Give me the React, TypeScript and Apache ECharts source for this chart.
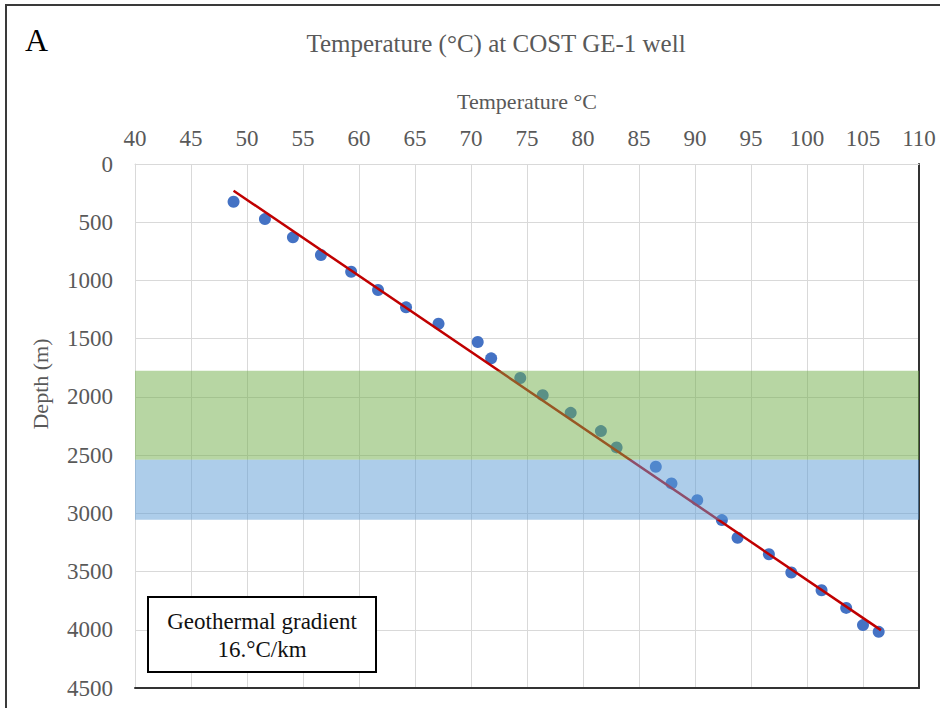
import React, { useEffect, useRef } from "react";
import * as echarts from "echarts";

// Measured temperature (°C) and depth (m) at COST GE-1 well
const temperatures = [48.8, 51.6, 54.1, 56.6, 59.3, 61.7, 64.2, 67.1, 70.6, 71.8, 74.4, 76.4, 78.9, 81.6, 83.0, 86.5, 87.9, 90.2, 92.4, 93.8, 96.6, 98.6, 101.3, 103.5, 105.0, 106.4];
const depths = [324, 473, 630, 782, 925, 1082, 1231, 1372, 1529, 1669, 1838, 1985, 2137, 2294, 2434, 2600, 2743, 2887, 3058, 3210, 3351, 3508, 3660, 3812, 3960, 4018];

// Linear trend line end points
const trendTemps = [48.8, 106.6];
const trendDepths = [229, 4003];

// Shaded depth bands
const bandStarts = [1775, 2540];
const bandEnds = [2540, 3055];
const bandColors = ["rgba(112,173,71,0.5)", "rgba(91,155,213,0.5)"];

const xTickMin = 40;
const xTickMax = 110;
const xTickStep = 5;
const yTickMin = 0;
const yTickMax = 4500;
const yTickStep = 500;

const FONT = "'Liberation Serif', 'Times New Roman', serif";
const GRAY_TEXT = "#595959";
const GRID_COLOR = "#d9d9d9";
const DARK = "#333333";

export default function App() {
  const ref = useRef<HTMLDivElement>(null);

  useEffect(() => {
    document.body.style.margin = "0";
    if (!ref.current) return;
    const chart = echarts.init(ref.current, undefined, { renderer: "svg" });

    const scatterData = temperatures.map((t, i) => [t, depths[i]]);
    const trendData = trendTemps.map((t, i) => [t, trendDepths[i]]);
    const bandData = bandStarts.map((s, i) => [s, bandEnds[i]]);

    const labelStyle = { fontFamily: FONT, fontSize: 23, color: GRAY_TEXT, formatter: (v: number) => String(v) };

    chart.setOption({
      animation: false,
      backgroundColor: "#ffffff",
      title: {
        text: "Temperature (°C) at COST GE-1 well",
        left: 491,
        top: 26,
        textAlign: "center",
        textStyle: { fontFamily: FONT, fontSize: 25, fontWeight: "normal", color: GRAY_TEXT },
      },
      grid: { left: 135, right: 21, top: 164, bottom: 20, containLabel: false },
      xAxis: [
        {
          type: "value",
          position: "top",
          min: xTickMin,
          max: xTickMax,
          interval: xTickStep,
          name: "Temperature °C",
          nameLocation: "middle",
          nameGap: 52,
          nameTextStyle: { fontFamily: FONT, fontSize: 22, color: GRAY_TEXT },
          axisLine: { show: true, onZero: false, lineStyle: { color: GRID_COLOR, width: 1 } },
          axisTick: { show: false },
          axisLabel: { ...labelStyle, margin: 14 },
          splitLine: { show: true, lineStyle: { color: GRID_COLOR, width: 1 } },
        },
        {
          type: "value",
          position: "bottom",
          min: xTickMin,
          max: xTickMax,
          interval: xTickStep,
          axisLine: { show: true, onZero: false, lineStyle: { color: DARK, width: 2 } },
          axisTick: { show: false },
          axisLabel: { show: false },
          splitLine: { show: false },
        },
      ],
      yAxis: [
        {
          type: "value",
          inverse: true,
          position: "left",
          min: yTickMin,
          max: yTickMax,
          interval: yTickStep,
          axisLine: { show: true, onZero: false, lineStyle: { color: GRID_COLOR, width: 1 } },
          axisTick: { show: false },
          axisLabel: { ...labelStyle, margin: 22 },
          splitLine: { show: true, lineStyle: { color: GRID_COLOR, width: 1 } },
        },
        {
          type: "value",
          inverse: true,
          position: "right",
          min: yTickMin,
          max: yTickMax,
          interval: yTickStep,
          axisLine: { show: true, onZero: false, lineStyle: { color: DARK, width: 2 } },
          axisTick: { show: false },
          axisLabel: { show: false },
          splitLine: { show: false },
        },
      ],
      series: [
        {
          type: "scatter",
          xAxisIndex: 0,
          yAxisIndex: 0,
          data: scatterData,
          symbol: "circle",
          symbolSize: 12,
          itemStyle: { color: "#4472C4", opacity: 1 },
          z: 2,
        },
        {
          type: "line",
          xAxisIndex: 0,
          yAxisIndex: 0,
          data: trendData,
          showSymbol: false,
          symbol: "none",
          lineStyle: { color: "#C00000", width: 2.5 },
          z: 3,
        },
        {
          type: "custom",
          xAxisIndex: 0,
          yAxisIndex: 0,
          silent: true,
          z: 5,
          data: bandData,
          encode: { y: [0, 1] },
          renderItem: (params: any, api: any) => {
            const topLeft = api.coord([xTickMin, api.value(0)]);
            const bottomRight = api.coord([xTickMax, api.value(1)]);
            return {
              type: "rect",
              shape: {
                x: topLeft[0],
                y: topLeft[1],
                width: bottomRight[0] - topLeft[0],
                height: bottomRight[1] - topLeft[1],
              },
              style: { fill: bandColors[params.dataIndex], stroke: null },
            };
          },
        },
      ],
      graphic: [
        {
          type: "polyline",
          z: 100,
          silent: true,
          shape: { points: [[6, 720], [6, 5], [950, 5]] },
          style: { stroke: "#3a3a3a", lineWidth: 2, fill: null },
        },
        {
          type: "text",
          x: 25,
          y: 24,
          z: 100,
          style: { text: "A", fontFamily: FONT, fontSize: 32, fill: "#000000" },
        },
        {
          type: "text",
          x: 40,
          y: 384,
          rotation: Math.PI / 2,
          z: 100,
          style: {
            text: "Depth (m)",
            fontFamily: FONT,
            fontSize: 22,
            fill: GRAY_TEXT,
            align: "center",
            verticalAlign: "middle",
          },
        },
        {
          type: "rect",
          z: 100,
          shape: { x: 148, y: 597, width: 228, height: 75 },
          style: { fill: "#ffffff", stroke: "#000000", lineWidth: 2 },
        },
        {
          type: "text",
          x: 262,
          y: 635,
          z: 101,
          style: {
            text: "Geothermal gradient\n16.°C/km",
            fontFamily: FONT,
            fontSize: 23,
            lineHeight: 28,
            fill: "#111111",
            align: "center",
            verticalAlign: "middle",
          },
        },
      ],
    });

    return () => chart.dispose();
  }, []);

  return <div ref={ref} style={{ width: 940, height: 708 }} />;
}
